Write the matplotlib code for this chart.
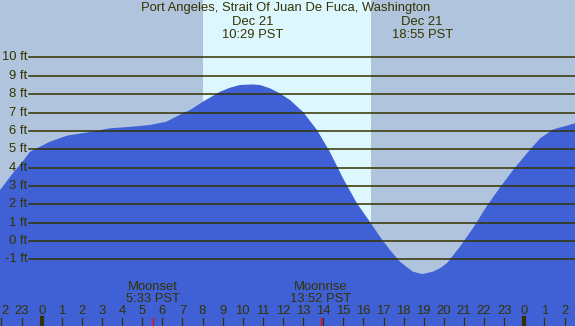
import matplotlib
matplotlib.use("Agg")
import matplotlib.pyplot as plt
import matplotlib.transforms as mtransforms

# tide height (hours from midnight Dec 21, feet)
hours = [-2.07, -1.5, -1.0, -0.58, 0.41, 1.26, 2.4, 3.4, 4.4, 5.38, 6.2, 7.03,
         7.37, 8.02, 8.87, 9.36, 9.86, 10.48, 10.86, 11.35, 11.85, 12.35,
         12.99, 13.69, 14.33, 14.99, 15.68, 16.32, 16.82, 17.32, 17.82, 18.17,
         18.46, 18.92, 19.46, 19.8, 20.15, 20.8, 21.44, 22.14, 22.79, 23.44,
         24.13, 24.78, 25.43, 26.52]
heights = [2.78, 3.6, 4.25, 4.86, 5.41, 5.74, 5.94, 6.14, 6.22, 6.32, 6.5, 6.96,
           7.13, 7.59, 8.13, 8.35, 8.5, 8.53, 8.5, 8.32, 8.04, 7.68,
           7.04, 6.05, 4.86, 3.41, 2.05, 1.05, 0.24, -0.49, -1.13, -1.43,
           -1.67, -1.8, -1.67, -1.49, -1.21, -0.31, 0.69, 1.91, 2.92, 3.87,
           4.78, 5.59, 6.08, 6.41]

ft_levels = list(range(-1, 11))
sunrise, sunset = 8.02, 16.37
events = [(10.48, "Dec 21", "10:29 PST"), (18.92, "Dec 21", "18:55 PST")]
moon = [(5.55, "Moonset", "5:33 PST"), (13.87, "Moonrise", "13:52 PST")]
tick_hours = list(range(-2, 27))

title = "Port Angeles, Strait Of Juan De Fuca, Washington"

txt = "#333300"
fs = 9.4
W, H = 575, 326
x0, x1 = -2.07, 26.52
y0, y1 = -4.63, 13.13

plt.rcParams['font.family'] = ['Liberation Sans', 'DejaVu Sans']
fig = plt.figure(figsize=(W / 100, H / 100), dpi=100)
ax = fig.add_axes([0, 0, 1, 1])
ax.set_xlim(x0, x1)
ax.set_ylim(y0, y1)
ax.axis("off")
fig.patch.set_facecolor("#B0C4DE")
ax.add_patch(plt.Rectangle((x0, y0), x1 - x0, y1 - y0, color="#B0C4DE", zorder=0))
ax.axvspan(sunrise, sunset, color="#DDF7FF", zorder=1, lw=0)

ax.fill_between(hours, y0 - 1, heights, color="#4060D5", lw=0, zorder=2)

px = (x1 - x0) / W
line_start = x0 + 29 * px
for f in ft_levels:
    ax.plot([line_start, x1], [f, f], color=txt, lw=1.1, zorder=3)
    ax.text(x0 + 27 * px, f, "%d ft" % f, ha="right", va="center",
            fontsize=fs, color=txt, zorder=4)

tr = mtransforms.blended_transform_factory(ax.transData, ax.transAxes)
def yf(p):
    return 1 - p / H

ax.text(0.5 * (x0 + x1) - 1.5 * px, yf(8), title, transform=tr, ha="center",
        va="center", fontsize=fs, color=txt)
for h, a, b in events:
    ax.text(h, yf(22), a, transform=tr, ha="center", va="center", fontsize=fs, color=txt)
    ax.text(h, yf(35), b, transform=tr, ha="center", va="center", fontsize=fs, color=txt)

for h, a, b in moon:
    ax.text(h, yf(287), a, transform=tr, ha="center", va="center", fontsize=fs, color=txt)
    ax.text(h, yf(299), b, transform=tr, ha="center", va="center", fontsize=fs, color=txt)
    ax.plot([h, h], [0, yf(318)], transform=tr, color="red", lw=0.9, zorder=5)

for h in tick_hours:
    if h == tick_hours[0]:
        # the "22" at the left edge only shows its last digit
        ax.text(x0 + 1.5 * px, yf(311), str(h % 24)[-1], transform=tr, ha="left",
                va="center", fontsize=fs, color=txt)
    else:
        ax.text(h, yf(311), str(h % 24), transform=tr, ha="center", va="center",
                fontsize=fs, color=txt)
    lw = 3 if h % 24 == 0 else 0.9
    ax.plot([h, h], [0, yf(318)], transform=tr, color=txt, lw=lw, zorder=5)

fig.savefig("out.png", dpi=100, facecolor=fig.get_facecolor())
